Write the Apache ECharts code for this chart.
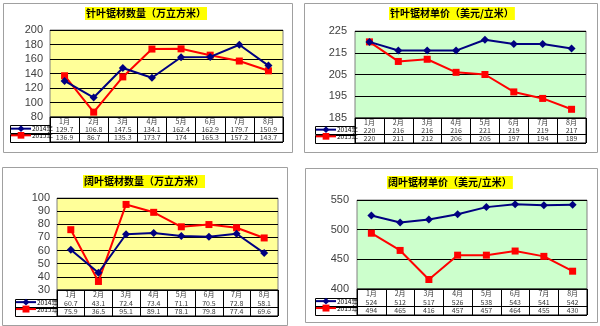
<!DOCTYPE html>
<html>
<head>
<meta charset="utf-8">
<script src="https://cdn.jsdelivr.net/npm/echarts@6/dist/echarts.min.js"></script>
<style>html,body{margin:0;padding:0;background:#fff;}#c{width:600px;height:326px;}</style>
</head>
<body>
<div id="c"></div>
<script>
// ---- data ----
const months = ['1月','2月','3月','4月','5月','6月','7月','8月'];
const years = ['2014年','2015年'];
const titles = ['针叶锯材数量（万立方米）','针叶锯材单价（美元/立米）','阔叶锯材数量（万立方米）','阔叶锯材单价（美元/立米）'];
const softQty2014 = [129.7,106.8,147.5,134.1,162.4,162.9,179.7,150.9];
const softQty2015 = [136.9,86.7,135.3,173.7,174,165.3,157.2,143.7];
const softPrice2014 = [220,216,216,216,221,219,219,217];
const softPrice2015 = [220,211,212,206,205,197,194,189];
const hardQty2014 = [60.7,43.1,72.4,73.4,71.1,70.5,72.8,58.1];
const hardQty2015 = [75.9,36.5,95.1,89.1,78.1,79.8,77.4,69.6];
const hardPrice2014 = [524,512,517,526,538,543,541,542];
const hardPrice2015 = [494,465,416,457,457,464,455,430];
const ticksSoftQty = [80,100,120,140,160,180,200];
const ticksSoftPrice = [185,195,205,215,225];
const ticksHardQty = [30,40,50,60,70,80,90,100];
const ticksHardPrice = [400,450,500,550];

// ---- layout / style ----
const YEL = '#FFFF99', GRN = '#CCFFCC';
const panels = [
  {s14:softQty2014, s15:softQty2015, ticks:ticksSoftQty, fmt:v=>v.toFixed(1).replace(/\.0$/,''), frame:[3,3,292,152], plot:{left:50,top:30,width:233,height:87}, table:{top:117,height:25}, legendLeft:10, title:{left:85,top:7}, bg:YEL, labelMargin:7},
  {s14:softPrice2014, s15:softPrice2015, ticks:ticksSoftPrice, fmt:v=>String(v), frame:[304,3,597,152], plot:{left:355,top:31,width:231,height:87}, table:{top:118,height:25}, legendLeft:315, title:{left:389,top:7}, bg:GRN, labelMargin:8},
  {s14:hardQty2014, s15:hardQty2015, ticks:ticksHardQty, fmt:v=>v.toFixed(1), frame:[2,167,287,325], plot:{left:57,top:198,width:221,height:92}, table:{top:290,height:26}, legendLeft:15, title:{left:83,top:175}, bg:YEL, labelMargin:7},
  {s14:hardPrice2014, s15:hardPrice2015, ticks:ticksHardPrice, fmt:v=>String(v), frame:[305,168,597,322], plot:{left:357,top:200,width:230,height:89}, table:{top:289,height:26}, legendLeft:315, title:{left:387,top:176}, bg:GRN, labelMargin:8}
];
// keep original formatting for soft qty values like 174
panels[0].fmt = v => String(v);
panels[2].fmt = v => String(v);

const CJK = '"Noto Sans CJK SC", sans-serif';
const grid = [], xAxis = [], yAxis = [], series = [], legend = [], title = [], graphic = [];

panels.forEach((p, i) => {
  const gp = i*2, gt = i*2+1;
  const tk = p.ticks;
  grid.push({left:p.plot.left, top:p.plot.top, width:p.plot.width, height:p.plot.height, show:true, backgroundColor:p.bg, borderColor:'#808080', borderWidth:1});
  grid.push({left:p.plot.left, top:p.table.top, width:p.plot.width, height:p.table.height, show:true, backgroundColor:'#fff', borderColor:'#000', borderWidth:1});
  xAxis.push({type:'category', gridIndex:gp, data:months, boundaryGap:true, axisLabel:{show:false}, axisTick:{show:false}, axisLine:{show:false}, splitLine:{show:false}});
  xAxis.push({type:'category', gridIndex:gt, data:months, boundaryGap:true, axisLabel:{show:false}, axisTick:{show:false}, axisLine:{show:false}, splitLine:{show:true, lineStyle:{color:'#000', width:1}}});
  yAxis.push({type:'value', gridIndex:gp, min:tk[0], max:tk[tk.length-1], interval:tk[1]-tk[0],
    axisLine:{show:false}, axisTick:{show:false},
    axisLabel:{color:'#404040', fontSize:11, fontFamily:'"Liberation Sans", Arial, sans-serif', margin:p.labelMargin},
    splitLine:{show:true, lineStyle:{color:'#000', width:1}}});
  yAxis.push({type:'category', gridIndex:gt, data:['m','a','b'], inverse:true, boundaryGap:true, axisLabel:{show:false}, axisTick:{show:false}, axisLine:{show:false}, splitLine:{show:true, lineStyle:{color:'#000', width:1}}});

  series.push({name:years[0], type:'line', xAxisIndex:gp, yAxisIndex:gp, data:p.s14, symbol:'diamond', symbolSize:8,
    lineStyle:{color:'#000080', width:2}, itemStyle:{color:'#000080'}, z:3});
  series.push({name:years[1], type:'line', xAxisIndex:gp, yAxisIndex:gp, data:p.s15, symbol:'rect', symbolSize:7,
    lineStyle:{color:'#FF0000', width:2}, itemStyle:{color:'#FF0000'}, z:2});

  const cells = [];
  months.forEach((m, k) => {
    cells.push({value:[k,0], name:m});
    cells.push({value:[k,1], name:p.fmt(p.s14[k])});
    cells.push({value:[k,2], name:p.fmt(p.s15[k])});
  });
  series.push({name:'tbl'+i, type:'scatter', xAxisIndex:gt, yAxisIndex:gt, data:cells, symbolSize:0, silent:true,
    label:{show:true, position:'inside', formatter:'{b}', fontSize:7, color:'#000', fontFamily:CJK}});

  const rowH = p.table.height/3;
  legend.push({data:years, orient:'vertical', left:p.legendLeft, top:p.table.top+rowH, itemGap:0, itemWidth:20, itemHeight:rowH,
    padding:0, selectedMode:false, textStyle:{fontSize:6.5, color:'#000', fontFamily:CJK, padding:[0,0,0,-4]}});

  title.push({text:titles[i], left:p.title.left, top:p.title.top, backgroundColor:'#FFFF00', padding:[1,1,1,1],
    textStyle:{fontSize:10, fontWeight:'bold', color:'#000', fontFamily:CJK, lineHeight:11}});

  const f = p.frame;
  graphic.push({type:'rect', shape:{x:f[0]+0.5, y:f[1]+0.5, width:f[2]-f[0], height:f[3]-f[1]}, style:{fill:'none', stroke:'#A0A0A0', lineWidth:1}, silent:true, z:-10});
  for (let r = 1; r <= 2; r++) {
    graphic.push({type:'rect', shape:{x:p.legendLeft+0.5, y:Math.round(p.table.top + r*rowH)+0.5, width:p.plot.left-p.legendLeft, height:Math.round(rowH)},
      style:{fill:'none', stroke:'#000', lineWidth:1}, silent:true, z:-5});
  }
});

const chart = echarts.init(document.getElementById('c'), null, {renderer:'canvas'});
chart.setOption({animation:false, backgroundColor:'#fff', title, legend, grid, xAxis, yAxis, series, graphic});
</script>
</body>
</html>
